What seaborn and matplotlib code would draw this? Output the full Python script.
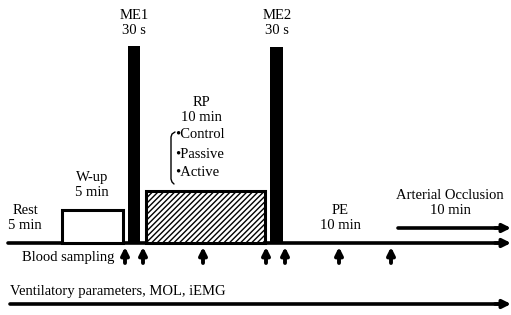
import matplotlib
matplotlib.use("Agg")
import matplotlib.pyplot as plt
import seaborn as sns
import pandas as pd
from matplotlib.patches import Rectangle

sns.set_theme(style="white")
plt.rcParams['font.family'] = ['Liberation Serif', 'DejaVu Serif']
plt.rcParams['hatch.linewidth'] = 1.0

W, H = 511, 315

# Protocol phases (diagram x-scale in px, y measured upward)
phase_names = ["W-up", "ME1", "RP", "ME2"]
phase_left = [62, 128, 146, 270]
phase_right = [123, 140, 265, 283]
phase_top = [105, 269, 124, 268]
phase_fill = ["white", "black", "hatch", "black"]

# Labels: text, x centre, y centre
label_texts = ["Rest\n5 min", "W-up\n5 min", "ME1\n30 s", "RP\n10 min", "ME2\n30 s", "PE\n10 min", "Arterial Occlusion\n10 min"]
label_x = [25, 92, 134, 201, 277, 340, 450]
label_y = [97, 130, 292, 205, 292, 97, 112]

rp_conditions = ["\u2022Control", "\u2022Passive", "\u2022Active"]
rp_cond_y = [180, 161, 143]

# Blood sampling times (x positions)
sampling_x = [125, 143, 203, 266, 285, 339, 391]

baseline_y = 72
FS = 10.5

fig = plt.figure(figsize=(W / 100, H / 100), dpi=100)
ax = fig.add_axes([0, 0, 1, 1])
ax.set_xlim(0, W)
ax.set_ylim(0, H)
ax.axis("off")

# baseline
df_base = pd.DataFrame({"x": [8, 505], "y": [baseline_y, baseline_y]})
sns.lineplot(data=df_base, x="x", y="y", color="black", lw=2.6, ax=ax, legend=False)
ax.annotate("", xy=(511, baseline_y), xytext=(495, baseline_y),
            arrowprops=dict(arrowstyle="-|>", color="black", lw=2.6, mutation_scale=12,
                            shrinkA=0, shrinkB=0))

# phases
for l, r, t, f in zip(phase_left, phase_right, phase_top, phase_fill):
    if f == "black":
        ax.bar(l, t - baseline_y, width=r - l, bottom=baseline_y, align="edge",
               color="black", edgecolor="black", lw=0)
    elif f == "white":
        ax.add_patch(Rectangle((l, baseline_y), r - l, t - baseline_y, facecolor="white",
                               edgecolor="black", lw=2.2, zorder=3))
    else:
        ax.add_patch(Rectangle((l, baseline_y), r - l, t - baseline_y, facecolor="white",
                               edgecolor="black", hatch="//////", lw=2.2, zorder=3))

for txt, x, y in zip(label_texts, label_x, label_y):
    ax.text(x, y, txt, ha="center", va="center", fontsize=FS, linespacing=1.15, color="black")

for txt, y in zip(rp_conditions, rp_cond_y):
    ax.text(175, y, txt, ha="left", va="center", fontsize=FS, color="black")

# bracket
ax.plot([175, 172, 171, 171, 172, 174], [183, 181, 178, 136, 133, 131], color="black", lw=1.0)

# arterial occlusion arrow
ax.plot([398, 502], [87, 87], color="black", lw=2.6)
ax.annotate("", xy=(511, 87), xytext=(495, 87),
            arrowprops=dict(arrowstyle="-|>", color="black", lw=2.6, mutation_scale=12,
                            shrinkA=0, shrinkB=0))

# sampling arrows
for x in sampling_x:
    ax.annotate("", xy=(x, 68), xytext=(x, 52),
                arrowprops=dict(arrowstyle="-|>", color="black", lw=2.8, mutation_scale=11,
                                shrinkA=0, shrinkB=0))
ax.text(22, 57, "Blood sampling", ha="left", va="center", fontsize=FS, color="black")

# ventilatory line
ax.text(10, 23, "Ventilatory parameters, MOL, iEMG", ha="left", va="center", fontsize=FS, color="black")
ax.plot([10, 502], [11, 11], color="black", lw=2.6)
ax.annotate("", xy=(511, 11), xytext=(495, 11),
            arrowprops=dict(arrowstyle="-|>", color="black", lw=2.6, mutation_scale=12,
                            shrinkA=0, shrinkB=0))

fig.savefig("out.png", dpi=100)
